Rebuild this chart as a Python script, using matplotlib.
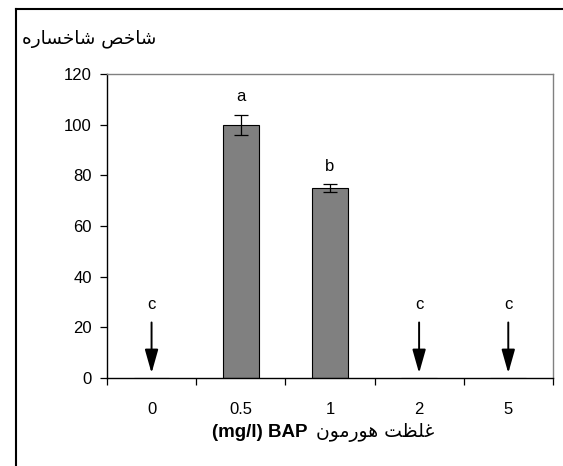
import matplotlib
matplotlib.use("Agg")
import matplotlib.pyplot as plt
from matplotlib.lines import Line2D

plt.rcParams['font.family'] = ['Liberation Sans', 'DejaVu Sans']

# data
categories = ['0', '0.5', '1', '2', '5']
values = [0, 100, 75, 0, 0]
errors = [0, 4, 1.7, 0, 0]
letters = ['c', 'a', 'b', 'c', 'c']

# Persian text, written in shaped presentation forms in visual order
# (matplotlib has no bidi / arabic shaping)
ylab = "\uFEE9\uFEAD\uFE8E\uFEB4\uFEA7\uFE8E\uFEB7 \uFEBA\uFEA7\uFE8E\uFEB7"      # شاخص شاخساره
xlab_fa = "\uFEE5\uFEEE\uFEE3\uFEAD\uFEEE\uFEEB \uFE96\uFEC8\uFEE0\uFECF"        # غلظت هورمون
xlab_en = "(mg/l) BAP"

fig = plt.figure(figsize=(5.63, 4.66), dpi=100)
ax = fig.add_axes([0.190, 0.189, 0.792, 0.652])

x = list(range(len(categories)))
ax.bar(x, values, width=0.4, color='#808080', edgecolor='black', linewidth=0.8, zorder=2)
xe = [i for i in x if values[i] > 0]
ax.errorbar(xe, [values[i] for i in xe], yerr=[errors[i] for i in xe], fmt='none',
            ecolor='black', elinewidth=0.9, capsize=5, capthick=0.9, zorder=3)

for i in x:
    if values[i] > 0:
        ax.text(i, values[i] + errors[i] + 7, letters[i], ha='center', va='center', fontsize=12)
    else:
        ax.annotate('', xy=(i, 0.8), xytext=(i, 23),
                    arrowprops=dict(arrowstyle='-|>,head_length=0.6,head_width=0.17',
                                    color='black', lw=1.4, mutation_scale=24))
        ax.text(i, 29, letters[i], ha='center', va='center', fontsize=12)

ax.set_xlim(-0.5, len(categories) - 0.5)
ax.set_ylim(0, 120)
ax.set_yticks(range(0, 121, 20))
ax.set_xticks(x)
ax.set_xticklabels(categories, fontsize=12)
ax.tick_params(axis='y', labelsize=12, length=5, width=0.9, direction='out', pad=6)
ax.tick_params(axis='x', which='major', length=0, pad=17.5)
ax.set_xticks([i - 0.5 for i in range(len(categories) + 1)], minor=True)
ax.tick_params(axis='x', which='minor', length=5, width=0.9, direction='out')

for s in ['left', 'bottom']:
    ax.spines[s].set_color('black')
    ax.spines[s].set_linewidth(1.0)
for s in ['top', 'right']:
    ax.spines[s].set_color('#808080')
    ax.spines[s].set_linewidth(1.0)

# axis titles
fig.text(0.158, 0.918, ylab, ha='center', va='center', fontsize=13.3, family='DejaVu Sans')
fig.text(0.547, 0.071, xlab_en, ha='right', va='center', fontsize=13.5, fontweight='bold')
fig.text(0.561, 0.071, xlab_fa, ha='left', va='center', fontsize=13.5, family='DejaVu Sans')

# outer frame of the chart
fig.add_artist(Line2D([0.0284, 0.0284], [0.0, 0.981], color='black', lw=1.5))
fig.add_artist(Line2D([0.0284, 1.0], [0.981, 0.981], color='black', lw=1.5))

fig.savefig('out.png', dpi=100)
